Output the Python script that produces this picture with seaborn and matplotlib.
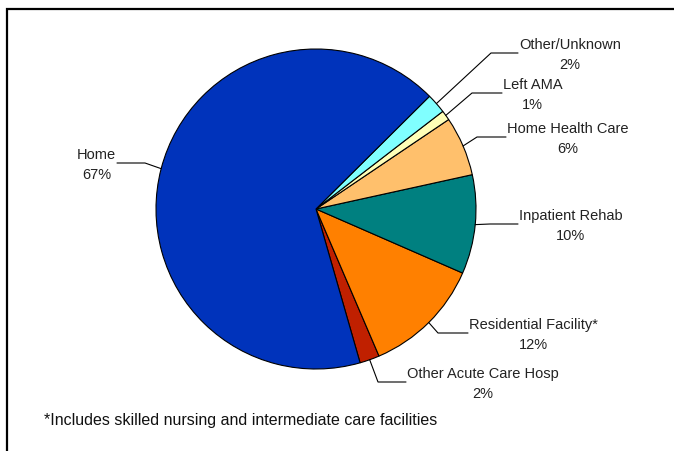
import matplotlib
matplotlib.use("Agg")
import matplotlib.pyplot as plt
import seaborn as sns
import numpy as np

# --- data (counterclockwise from the bottom) ---
categories = ["Other Acute Care Hosp", "Residential Facility*", "Inpatient Rehab",
              "Home Health Care", "Left AMA", "Other/Unknown", "Home"]
percents = [2, 12, 10, 6, 1, 2, 67]
footnote = "*Includes skilled nursing and intermediate care facilities"

# --- styling / layout ---
colors = ["#C02000", "#FF8000", "#008080", "#FFC06C", "#FFFFB8", "#80FFFF", "#0033BB"]
W, H = 674, 451
CENTER = (316, H - 209)
RADIUS = 160
START = -74
# label anchor (end of leader, pixel coords from top-left) and elbow x
label_anchor = [(406, 382), (468, 333), (518, 224), (506, 137), (502, 93), (518, 53), (117, 163)]
elbow_x = [378, 438, 490, 477, 472, 491, 145]

sns.set_style("white")
plt.rcParams["font.family"] = ["Liberation Sans Narrow", "Liberation Sans", "DejaVu Sans"]

fig = plt.figure(figsize=(W / 100, H / 100), dpi=100)
ax = fig.add_axes([0, 0, 1, 1])

wedges, _ = ax.pie(percents, colors=colors, startangle=START, counterclock=True,
                   center=CENTER, radius=RADIUS,
                   wedgeprops=dict(edgecolor="black", linewidth=0.8))

for w, cat, p, (lx, ly), ex in zip(wedges, categories, percents, label_anchor, elbow_x):
    mid = np.deg2rad((w.theta1 + w.theta2) / 2)
    x0 = CENTER[0] + RADIUS * np.cos(mid)
    y0 = CENTER[1] + RADIUS * np.sin(mid)
    y1 = H - ly
    ax.plot([x0, ex, lx], [y0, y1, y1], color="black", lw=0.8)
    ha = "left" if lx > CENTER[0] else "right"
    ax.text(lx + (1 if ha == "left" else -1), y1 - 2, f"{cat}\n{p}%", ha=ha, va="center",
            multialignment="center", fontsize=10.5, color="#222222", linespacing=1.5)

ax.text(44, H - 421, footnote, ha="left", va="center", fontsize=11.5, color="#111111")

# outer frame (only left and top edges visible in the crop)
ax.plot([7, 7, W + 5], [-5, H - 9, H - 9], color="black", lw=1.6, solid_joinstyle="miter")

ax.set_xlim(0, W)
ax.set_ylim(0, H)
ax.set_aspect("equal")
ax.axis("off")

fig.savefig("out.png", dpi=100)
